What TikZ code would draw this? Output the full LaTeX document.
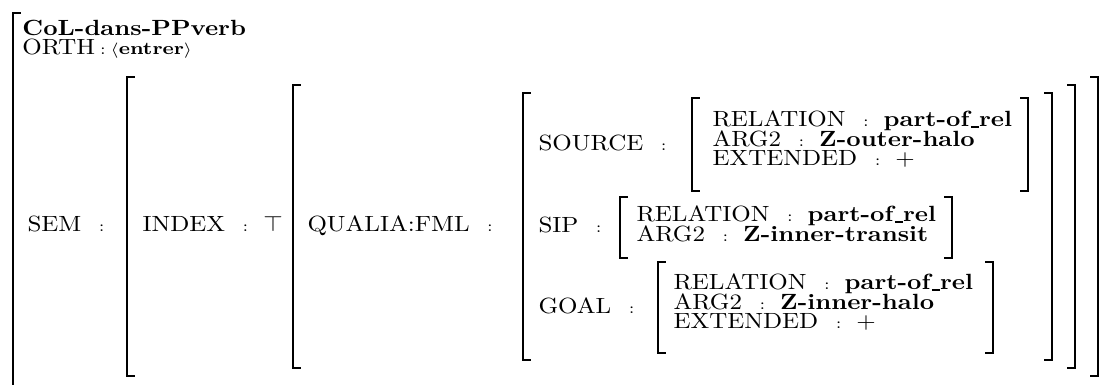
\documentclass[tikz,border=0pt]{standalone}
\usepackage{amsmath,amssymb}
\usepackage{graphicx}
\usepackage{tikz}

% opening and closing brackets of a feature structure: x, top, bottom
\newcommand{\avmL}[3]{\draw[br] (#1,#2) ++(7,0) -- (#1,#2) -- (#1,#3) -- ++(7,0);}
\newcommand{\avmR}[3]{\draw[br] (#1,#2) ++(-7,0) -- (#1,#2) -- (#1,#3) -- ++(-7,0);}
% the small colon between a feature and its value
\newcommand{\is}{\hspace{7pt}{\scriptsize:}\hspace{6pt}}
% short underscore, as in the old OT1 \_
\newcommand{\us}{\kern.06em\rule[-.4pt]{.33em}{.8pt}}
% rows are set a little flatter than the font
\newcommand{\sq}[1]{\scalebox{1}[.88]{#1}}

\begin{document}
\begin{tikzpicture}[
  x=0.4pt, y=-0.4pt,
  f/.style={anchor=base west, inner sep=0pt, font=\normalsize},
  br/.style={line width=1.1pt, line cap=rect}]

\useasboundingbox (0,0) rectangle (1116,385);

% ------------------------------------------------------------ outer box ---
\draw[br] (13,13) ++(7,0) -- (13,13) -- (13,400);
\node[f] (type) at (22,36) {\sq{\textbf{CoL-dans-PPverb}}};
\node[f] (orth) at (22,55)
      {\sq{ORTH\hspace{2pt}{\scriptsize:}\hspace{2pt}%
       {\scriptsize$\langle$}{\footnotesize\textbf{entrer}}{\scriptsize$\rangle$}}};

% ------------------------------------------------------------------ SEM ---
\node[f] (sem) at (27,232) {\sq{SEM\is}};
\avmL{127}{77}{376}
\avmR{1098}{77}{376}

\node[f] (index) at (142,232) {\sq{INDEX\is$\top$}};
\avmL{293}{85}{368}
\avmR{1075}{85}{368}

\node[f] (qualia) at (307,232) {\sq{QUALIA:FML\is}};
\avmL{523}{93}{360}
\avmR{1052}{93}{360}

% --------------------------------------------------------------- SOURCE ---
\node[f] (source) at (538,151) {\sq{SOURCE\is}};
\avmL{692}{98}{191}
\avmR{1028}{98}{191}
\node[f] (srcrel) at (712,127) {\sq{RELATION\is\textbf{part-of\us rel}}};
\node[f] (srcarg) at (712,147) {\sq{ARG2\is\textbf{Z-outer-halo}}};
\node[f] (srcext) at (712,166) {\sq{EXTENDED\is$+$}};

% ------------------------------------------------------------------ SIP ---
\node[f] (sip) at (538,233) {\sq{SIP\is}};
\avmL{620}{197}{258}
\avmR{952}{197}{258}
\node[f] (siprel) at (636,222) {\sq{RELATION\is\textbf{part-of\us rel}}};
\node[f] (siparg) at (636,242) {\sq{ARG2\is\textbf{Z-inner-transit}}};

% ----------------------------------------------------------------- GOAL ---
\node[f] (goal) at (538,314) {\sq{GOAL\is}};
\avmL{658}{262}{353}
\avmR{993}{262}{353}
\node[f] (goalrel) at (673,290) {\sq{RELATION\is\textbf{part-of\us rel}}};
\node[f] (goalarg) at (673,310) {\sq{ARG2\is\textbf{Z-inner-halo}}};
\node[f] (goalext) at (673,329) {\sq{EXTENDED\is$+$}};

\end{tikzpicture}
\end{document}
